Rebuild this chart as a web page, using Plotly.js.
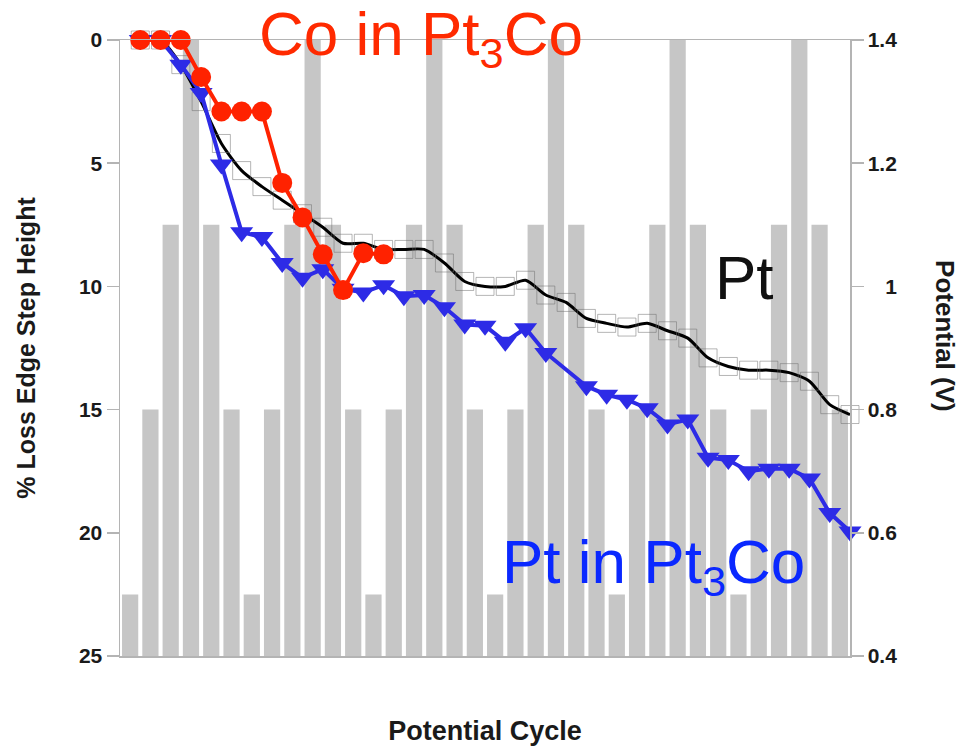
<!DOCTYPE html>
<html>
<head>
<meta charset="utf-8">
<script src="https://cdn.plot.ly/plotly-3.0.1.min.js"></script>
<style>html,body{margin:0;padding:0;background:#fff;}#chart{width:963px;height:748px;}</style>
</head>
<body>
<div id="chart"></div>
<script>
// Potential cycle bars (V)
const barCycle = [1,2,3,4,5,6,7,8,9,10,11,12,13,14,15,16,17,18,19,20,21,22,23,24,25,26,27,28,29,30,31,32,33,34,35,36];
const barPotential = [0.5,0.8,1.1,1.4,1.1,0.8, 0.5,0.8,1.1,1.4,1.1,0.8, 0.5,0.8,1.1,1.4,1.1,0.8,
                      0.5,0.8,1.1,1.4,1.1,0.8, 0.5,0.8,1.1,1.4,1.1,0.8, 0.5,0.8,1.1,1.4,1.1,0.8];

// Pt (black, open squares)
const ptX = [1.5,2.5,3.5,4.5,5.5,6.5,7.5,8.5,9.5,10.5,11.5,12.5,13.5,14.5,15.5,16.5,17.5,18.5,
             19.5,20.5,21.5,22.5,23.5,24.5,25.5,26.5,27.5,28.5,29.5,30.5,31.5,32.5,33.5,34.5,35.5,36.5];
const ptLoss = [0,0,1.0,2.5,4.2,5.3,5.95,6.5,7.05,7.6,8.25,8.25,8.5,8.5,8.5,9.05,9.8,10.0,
                10.0,9.75,10.35,10.65,11.3,11.5,11.65,11.5,11.8,12.1,12.9,13.25,13.4,13.4,13.5,13.85,14.8,15.2];

// Pt in Pt3Co (blue, triangles)
const ptCoX = [1.5,2.5,3.5,4.5,5.5,6.5,7.5,8.5,9.5,10.5,11.5,12.5,13.5,14.5,15.5,16.5,17.5,18.5,
               19.5,20.5,21.5,23.5,24.5,25.5,26.5,27.5,28.5,29.5,30.5,31.5,32.5,33.5,34.5,35.5,36.5];
const ptCoLoss = [0,0,1.0,2.15,5.05,7.8,8.0,9.05,9.65,9.3,10.1,10.25,9.95,10.4,10.35,10.85,11.55,11.6,
                  12.25,11.7,12.7,14.05,14.4,14.6,14.95,15.6,15.4,16.95,17.05,17.5,17.4,17.4,17.8,19.2,19.95];

// Co in Pt3Co (red, circles)
const coX = [1.5,2.5,3.5,4.5,5.5,6.5,7.5,8.5,9.5,10.5,11.5,12.5,13.5];
const coLoss = [0,0,0,1.5,2.9,2.9,2.9,5.8,7.2,8.7,10.15,8.65,8.7];

// Axis ticks
const lossTicks = [0,5,10,15,20,25];
const potTicks = [0.4,0.6,0.8,1,1.2,1.4];
const potTickText = ['0.4','0.6','0.8','\u2007\u20081','1.2','1.4'];

const traces = [
  {type:'bar', x:barCycle, y:barPotential, yaxis:'y', marker:{color:'#c6c6c6'},
   width:0.8, hoverinfo:'skip', showlegend:false},
  {type:'scatter', mode:'lines+markers', x:ptX, y:ptLoss, yaxis:'y2', cliponaxis:false,
   line:{color:'#000', width:3, shape:'spline', smoothing:0.7},
   marker:{symbol:'square-open', size:18, color:'rgba(110,110,110,0.5)', line:{width:1, color:'rgba(110,110,110,0.5)'}},
   showlegend:false},
  {type:'scatter', mode:'lines+markers', x:ptCoX, y:ptCoLoss, yaxis:'y2', cliponaxis:false,
   line:{color:'#2d2be6', width:4},
   marker:{symbol:'triangle-down', size:20, color:'#2d2be6'}, showlegend:false},
  {type:'scatter', mode:'lines+markers', x:coX, y:coLoss, yaxis:'y2', cliponaxis:false,
   line:{color:'#ff2200', width:4},
   marker:{symbol:'circle', size:20, color:'#ff2200'}, showlegend:false}
];

const tickFont = {family:'Liberation Sans, Arial, sans-serif', size:21, color:'#1a1a1a', weight:'bold'};
const titleFont = {family:'Liberation Sans, Arial, sans-serif', size:27, color:'#1a1a1a', weight:'bold'};

const layout = {
  width:963, height:748,
  margin:{l:120, r:113, t:40, b:92},
  paper_bgcolor:'#fff', plot_bgcolor:'#fff',
  bargap:0.2,
  xaxis:{range:[0.5,36.5], showticklabels:false, ticks:'', showgrid:false, zeroline:false,
         showline:true, mirror:true, linecolor:'#b4b4b4', linewidth:1.5,
         title:{text:'<b>Potential Cycle</b>', font:titleFont, standoff:64}},
  yaxis:{range:[0.4,1.4], side:'right', tickvals:potTicks, ticktext:potTickText,
         ticks:'outside', ticklen:12, tickcolor:'#b4b4b4', tickwidth:1.5,
         showgrid:false, zeroline:false, showline:true, linecolor:'#b4b4b4', linewidth:1.5,
         tickfont:tickFont},
  yaxis2:{range:[25,0], overlaying:'y', side:'left', tickvals:lossTicks,
          ticks:'outside', ticklen:12, tickcolor:'#b4b4b4', tickwidth:1.5,
          showgrid:false, zeroline:false, showline:true, linecolor:'#b4b4b4', linewidth:1.5,
          tickfont:tickFont,
          title:{text:'<b>% Loss Edge Step Height</b>', font:{family:'Liberation Sans, Arial, sans-serif', size:25, color:'#1a1a1a', weight:'bold'}, standoff:36}},
  annotations:[
    {xref:'paper', yref:'paper', x:0.187, y:1.004, xanchor:'left', yanchor:'middle', showarrow:false,
     text:'Co in Pt<sub>3</sub>Co', font:{family:'Liberation Sans, Arial, sans-serif', size:62, color:'#ff2a00'}},
    {xref:'paper', yref:'paper', x:0.812, y:0.614, xanchor:'left', yanchor:'middle', showarrow:false,
     text:'Pt', font:{family:'Liberation Sans, Arial, sans-serif', size:62, color:'#111'}},
    {xref:'paper', yref:'paper', x:0.52, y:0.146, xanchor:'left', yanchor:'middle', showarrow:false,
     text:'Pt in Pt<sub>3</sub>Co', font:{family:'Liberation Sans, Arial, sans-serif', size:62, color:'#0a28ff'}},
    {xref:'paper', yref:'paper', x:1.131, y:0.52, xanchor:'center', yanchor:'middle', showarrow:false,
     textangle:90, text:'<b>Potential (V)</b>', font:{family:'Liberation Sans, Arial, sans-serif', size:26, color:'#1a1a1a', weight:'bold'}}
  ]
};

Plotly.newPlot('chart', traces, layout, {displayModeBar:false, staticPlot:true});
</script>
</body>
</html>
